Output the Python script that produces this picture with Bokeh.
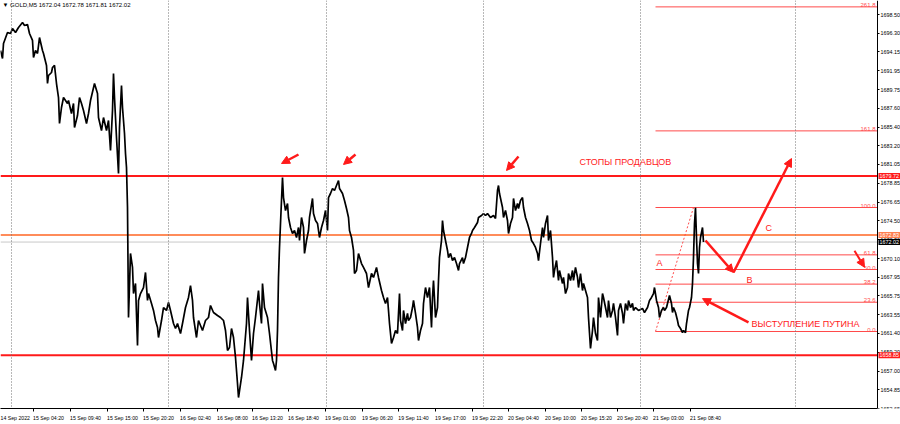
from bokeh.plotting import figure
from bokeh.models import (Range1d, FixedTicker, Span, Label, Arrow, NormalHead,
                          ColumnDataSource, NumeralTickFormatter)
from bokeh.embed import file_html
from bokeh.resources import INLINE

# ---------------- data ----------------
header_text = "▼ GOLD,M5  1672.04 1672.78 1671.81 1672.02"

bar_t = [0, 2, 3, 7, 10, 12, 15, 18, 22, 24, 27, 29, 32, 33, 35, 37, 39, 42, 43, 46, 47, 48, 51, 52, 54, 56, 58, 59,
         61, 63, 67, 68, 71, 73, 74, 77, 79, 81, 83, 86, 88, 90, 94, 97, 98, 101, 103, 106, 108, 110, 112, 113, 114,
         116, 118, 119, 121, 122, 124, 125, 126, 127, 128, 130, 132, 133, 135, 137, 138, 140, 143, 145, 147, 148,
         151, 153, 155, 157, 158, 161, 163, 166, 168, 170, 173, 175, 177, 180, 182, 185, 188, 190, 192, 193, 196,
         198, 202, 205, 208, 210, 213, 217, 220, 223, 225, 227, 229, 231, 233, 235, 237, 238, 241, 243, 246, 247,
         249, 251, 253, 255, 258, 259, 261, 262, 264, 267, 269, 272, 273, 275, 276, 277, 278, 279, 280, 282, 283,
         285, 287, 288, 290, 292, 294, 296, 298, 299, 301, 303, 304, 306, 308, 309, 312, 313, 315, 317, 319, 321,
         323, 325, 327, 328, 330, 332, 334, 336, 338, 339, 342, 344, 346, 348, 349, 351, 353, 354, 356, 358, 361,
         363, 366, 368, 371, 373, 376, 378, 381, 383, 385, 387, 389, 391, 393, 395, 397, 399, 400, 402, 403, 405,
         407, 408, 410, 412, 413, 415, 417, 418, 420, 422, 423, 425, 427, 429, 431, 432, 433, 435, 437, 438, 439,
         441, 442, 443, 445, 447, 448, 450, 452, 454, 456, 458, 459, 462, 463, 465, 467, 469, 471, 472, 474, 477,
         478, 481, 483, 485, 487, 490, 493, 495, 497, 498, 499, 502, 503, 505, 507, 508, 510, 512, 513, 515, 517,
         518, 520, 522, 523, 525, 527, 529, 531, 533, 535, 537, 538, 540, 542, 543, 545, 547, 548, 550, 552, 553,
         554, 556, 558, 559, 562, 563, 565, 567, 568, 570, 572, 573, 575, 577, 578, 580, 582, 583, 585, 587, 588,
         590, 592, 593, 595, 597, 598, 600, 602, 603, 605, 607, 608, 610, 612, 613, 615, 617, 618, 620, 622, 623,
         625, 627, 628, 630, 632, 633, 635, 638, 642, 644, 647, 649, 651, 653, 654, 656, 658, 659, 661, 663, 664,
         666, 667, 669, 671, 672, 673, 675, 677, 678, 680, 682, 683, 685, 686, 688, 689, 691, 692, 693, 694, 695,
         696, 697, 698, 699, 700, 702, 703]

bar_price = [1694.31, 1693.38, 1695.13, 1696.41, 1696.29, 1696.87, 1696.41, 1696.99, 1697.57, 1697.22, 1697.34,
             1696.29, 1695.48, 1693.50, 1694.31, 1693.96, 1695.82, 1694.31, 1693.96, 1692.57, 1690.47, 1691.40,
             1691.75, 1692.33, 1692.57, 1690.47, 1688.84, 1685.82, 1687.68, 1688.84, 1688.14, 1688.49, 1686.98,
             1688.14, 1685.35, 1686.75, 1688.84, 1688.14, 1687.33, 1685.82, 1686.98, 1688.49, 1690.47, 1689.31,
             1686.51, 1685.00, 1686.51, 1685.00, 1686.17, 1682.67, 1687.33, 1691.63, 1688.84, 1684.19, 1680.00,
             1685.35, 1690.24, 1687.68, 1684.65, 1682.33, 1680.70, 1676.04, 1663.24, 1670.69, 1669.06, 1666.03,
             1667.20, 1659.98, 1665.22, 1666.03, 1666.73, 1668.48, 1665.22, 1666.03, 1664.87, 1664.06, 1662.89,
             1662.08, 1660.91, 1662.89, 1664.40, 1664.06, 1664.99, 1664.06, 1662.54, 1661.96, 1662.54, 1661.38,
             1662.54, 1664.40, 1665.57, 1666.96, 1665.22, 1663.24, 1660.91, 1662.89, 1661.73, 1662.89, 1663.24,
             1664.64, 1663.82, 1663.47, 1663.24, 1662.89, 1661.73, 1659.40, 1659.75, 1661.96, 1660.91, 1658.59,
             1655.56, 1653.93, 1656.26, 1658.24, 1662.54, 1665.57, 1661.73, 1658.24, 1661.38, 1663.24, 1666.38,
             1664.87, 1662.54, 1667.20, 1664.40, 1663.24, 1661.38, 1658.24, 1657.89, 1657.07, 1658.24, 1661.73,
             1667.90, 1671.39, 1674.18, 1679.53, 1677.20, 1675.69, 1676.51, 1674.88, 1673.71, 1673.02, 1673.36,
             1672.55, 1673.71, 1672.20, 1674.88, 1673.71, 1670.69, 1672.20, 1673.36, 1674.88, 1677.09, 1675.34,
             1674.53, 1674.18, 1672.55, 1673.71, 1674.53, 1675.69, 1673.36, 1677.20, 1677.67, 1678.25, 1678.02,
             1678.60, 1679.18, 1678.25, 1677.67, 1676.86, 1675.92, 1674.88, 1673.36, 1672.55, 1671.04, 1668.36,
             1668.71, 1670.69, 1669.52, 1669.06, 1668.36, 1666.73, 1668.36, 1667.90, 1669.06, 1667.90, 1666.38,
             1665.57, 1664.87, 1665.57, 1662.54, 1660.22, 1660.91, 1661.73, 1661.38, 1666.03, 1662.89, 1661.73,
             1664.06, 1662.54, 1663.71, 1662.89, 1663.24, 1664.40, 1665.22, 1663.71, 1662.08, 1660.56, 1661.73,
             1662.54, 1664.87, 1666.73, 1665.57, 1666.73, 1662.08, 1665.57, 1667.55, 1663.24, 1664.40, 1667.55,
             1670.22, 1672.20, 1674.53, 1673.36, 1672.20, 1671.04, 1670.22, 1670.69, 1669.87, 1670.22, 1669.52,
             1668.71, 1669.52, 1670.22, 1669.52, 1670.22, 1671.39, 1672.55, 1673.02, 1673.36, 1673.71, 1674.30,
             1674.88, 1675.11, 1675.34, 1675.11, 1675.34, 1674.88, 1675.11, 1674.76, 1678.02, 1678.60, 1677.67,
             1676.04, 1674.88, 1675.69, 1674.53, 1673.02, 1674.18, 1674.88, 1677.09, 1675.69, 1676.51, 1675.92,
             1676.86, 1677.20, 1676.04, 1674.88, 1674.18, 1673.36, 1672.20, 1671.85, 1671.39, 1670.69, 1669.87,
             1671.85, 1673.71, 1672.55, 1674.18, 1675.11, 1672.20, 1673.36, 1670.22, 1667.90, 1668.71, 1669.87,
             1667.55, 1668.71, 1667.20, 1667.90, 1666.03, 1666.73, 1668.36, 1667.55, 1668.71, 1667.55, 1669.06,
             1667.90, 1666.73, 1668.36, 1666.38, 1667.20, 1666.38, 1665.57, 1663.24, 1659.63, 1661.73, 1663.24,
             1661.38, 1660.56, 1665.57, 1663.24, 1666.03, 1665.57, 1664.40, 1663.24, 1665.22, 1663.24, 1664.06,
             1664.87, 1663.24, 1661.15, 1664.06, 1664.87, 1663.71, 1662.54, 1664.87, 1664.06, 1665.22, 1664.40,
             1664.87, 1664.06, 1664.40, 1664.06, 1664.29, 1663.82, 1664.40, 1665.22, 1665.57, 1666.03, 1666.73,
             1665.22, 1664.40, 1663.24, 1664.06, 1664.40, 1664.06, 1664.40, 1664.87, 1665.80, 1664.87, 1663.82,
             1664.40, 1663.82, 1662.89, 1662.31, 1661.96, 1661.49, 1661.73, 1661.49, 1662.54, 1664.06, 1664.40,
             1665.57, 1667.20, 1670.22, 1674.18, 1676.00, 1672.55, 1669.52, 1668.36, 1671.39, 1672.55, 1673.71,
             1672.02]

time_labels = ["14 Sep 2022", "15 Sep 04:20", "15 Sep 09:40", "15 Sep 15:00", "15 Sep 20:20", "16 Sep 02:40",
               "16 Sep 08:00", "16 Sep 13:20", "16 Sep 18:40", "19 Sep 01:00", "19 Sep 06:20", "19 Sep 11:40",
               "19 Sep 17:00", "19 Sep 22:20", "20 Sep 04:40", "20 Sep 10:00", "20 Sep 15:20", "20 Sep 20:40",
               "21 Sep 03:00", "21 Sep 08:40"]
time_label_slot = [-6, 33, 70, 107, 143, 180, 217, 252, 288, 325, 362, 398, 435, 472, 508, 545, 581, 617, 653, 690]

price_tick_labels = ["1698.50", "1696.30", "1694.15", "1691.95", "1689.75", "1687.60", "1685.40", "1683.20",
                     "1681.05", "1678.85", "1676.65", "1674.50", "1672.30", "1670.10", "1667.95", "1665.75",
                     "1663.55", "1661.40", "1659.20", "1657.00", "1654.85", "1652.65"]

seller_stops = 1679.72
support_level = 1658.85
marker_level = 1672.83
bid_price = 1672.02
fib_zero = 1661.61
fib_hundred = 1676.04
fib_ratios = [0.0, 23.6, 38.2, 50.0, 61.8, 100.0, 161.8, 261.8]
fib_start_slot = 655
fib_peak_slot = 693
day_separators = [11, 168, 326, 483, 640, 795]

# ---------------- figure ----------------
X_AXIS_AT = 877     # price scale sits at this slot; the strip to its right holds its labels
X_END = 900
RED = "#ff1a1a"
FIB = "#ff4a4a"
FONT = "Liberation Sans"
SCALE_FONT = "5.4px"

p = figure(width=900, height=424, output_backend="svg", toolbar_location=None,
           x_range=Range1d(0, X_END), y_range=Range1d(1652.65, 1700.13),
           y_axis_location="right", x_axis_location="below",
           min_border_left=0, min_border_top=0, min_border_right=0, min_border_bottom=16,
           background_fill_color="white", border_fill_color="white")
p.outline_line_color = None
p.xgrid.visible = False
p.ygrid.visible = False

# x axis (time)
half = 15
centers = [s + half for s in time_label_slot]
p.xaxis.ticker = FixedTicker(ticks=centers, minor_ticks=time_label_slot[1:])
p.xaxis.major_label_overrides = {c: lab for c, lab in zip(centers, time_labels)}
p.xaxis.bounds = (0, X_AXIS_AT)
p.xaxis.major_tick_out = 0
p.xaxis.major_tick_in = 0
p.xaxis.minor_tick_out = 3
p.xaxis.minor_tick_in = 0
p.xaxis.minor_tick_line_color = "black"
p.xaxis.major_label_standoff = 3
p.xaxis.major_label_text_font_size = "5.2px"
p.xaxis.major_label_text_font = FONT
p.xaxis.major_label_text_color = "black"
p.xaxis.axis_line_color = "black"

# y axis (price), drawn at a fixed slot so the tags can sit on top of it
p.yaxis.fixed_location = X_AXIS_AT
p.yaxis.ticker = FixedTicker(ticks=[float(s) for s in price_tick_labels])
p.yaxis.formatter = NumeralTickFormatter(format="0.00")
p.yaxis.major_tick_out = 2
p.yaxis.major_tick_in = 0
p.yaxis.minor_tick_out = 0
p.yaxis.minor_tick_in = 0
p.yaxis.major_label_standoff = 1
p.yaxis.major_label_text_font_size = SCALE_FONT
p.yaxis.major_label_text_font = FONT
p.yaxis.major_label_text_color = "black"
p.yaxis.axis_line_color = "black"

# period separators
for s in day_separators:
    p.add_layout(Span(location=s, dimension="height", line_color="#707070",
                      line_dash="1 2", line_width=1))

# horizontal levels (stop at the price scale)
p.segment(x0=[0], y0=[bid_price], x1=[X_AXIS_AT], y1=[bid_price], line_color="#c8c8c8", line_width=1)
p.segment(x0=[0], y0=[marker_level], x1=[X_AXIS_AT], y1=[marker_level], line_color="#ff8c5a", line_width=2)
p.segment(x0=[0, 0], y0=[seller_stops, support_level], x1=[X_AXIS_AT, X_AXIS_AT],
          y1=[seller_stops, support_level], line_color=RED, line_width=2)

# fibonacci grid
fib_prices = [fib_zero + r / 100.0 * (fib_hundred - fib_zero) for r in fib_ratios]
p.segment(x0=[fib_start_slot] * len(fib_prices), y0=fib_prices,
          x1=[X_AXIS_AT] * len(fib_prices), y1=fib_prices, line_color=FIB, line_width=1)
p.line(x=[fib_start_slot, fib_peak_slot], y=[fib_zero, fib_hundred], line_color=FIB,
       line_dash="2 2", line_width=1)
for r, fp in zip(fib_ratios, fib_prices):
    p.add_layout(Label(x=X_AXIS_AT - 2, y=fp, text=f"{r:.1f}", text_align="right",
                       text_baseline="bottom", text_font_size="6px", text_font=FONT,
                       text_color="#ff4d4d"))

# price series
src = ColumnDataSource(dict(t=bar_t, price=bar_price))
p.line(x="t", y="price", source=src, line_color="black", line_width=1.7)

# header
p.add_layout(Label(x=2, y=1699.66, text=header_text, text_baseline="middle",
                   text_font_size="6px", text_font=FONT, text_color="black"))

# annotations (text)
for tx, ty, txt in [(579, 1681.39, "СТОПЫ ПРОДАВЦОВ"), (656, 1669.64, "A"),
                    (746, 1667.55, "B"), (765, 1673.60, "C"),
                    (751, 1662.43, "ВЫСТУПЛЕНИЕ ПУТИНА")]:
    p.add_layout(Label(x=tx, y=ty, text=txt, text_baseline="middle", text_align="left",
                       text_font_size="9px", text_font=FONT, text_color=RED))

# arrows
for x0, y0, x1, y1, w in [(298, 1682.21, 281, 1681.16, 2.5), (355, 1682.21, 343, 1681.05, 2.5),
                          (518, 1681.98, 506, 1680.35, 2.5), (705, 1672.20, 733, 1668.48, 2.5),
                          (733, 1668.48, 791, 1681.74, 2.5), (748, 1662.66, 702, 1665.44, 2.5),
                          (854, 1671.0, 864, 1669.1, 2.0)]:
    p.add_layout(Arrow(x_start=x0, y_start=y0, x_end=x1, y_end=y1, line_color=RED, line_width=w,
                       end=NormalHead(size=8, fill_color=RED, line_color=RED, line_width=1)))

# price tags on the price scale
for price, bg in [(seller_stops, "#ff1a1a"), (marker_level, "#ff7f50"),
                  (bid_price, "black"), (support_level, "#ff1a1a")]:
    p.add_layout(Label(x=X_AXIS_AT, y=price, x_offset=1, text=f"{price:.2f}", text_align="left",
                       text_baseline="middle", text_font_size=SCALE_FONT, text_font=FONT,
                       text_color="white", background_fill_color=bg, padding=1))

open("out.html", "w").write(file_html(p, INLINE))
